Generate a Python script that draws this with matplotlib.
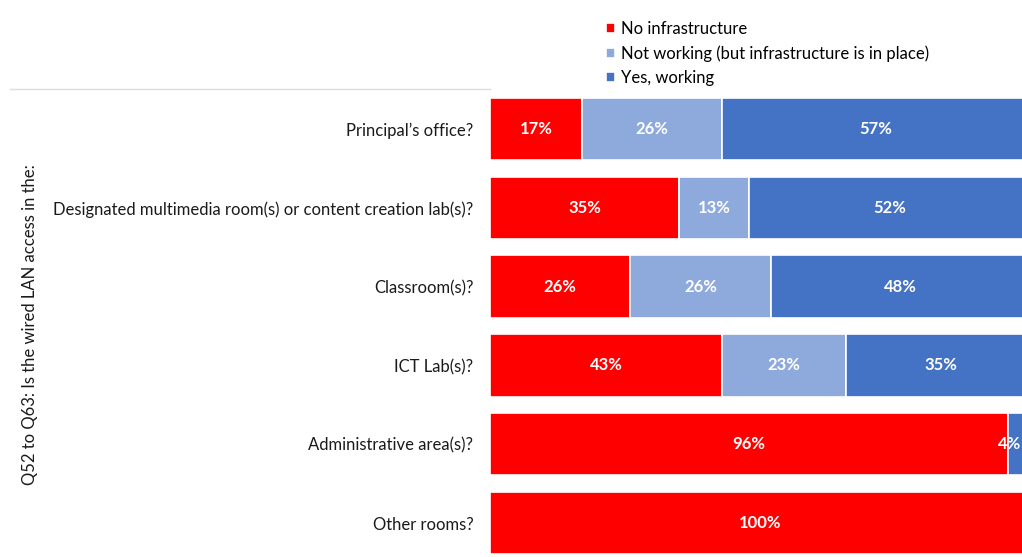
import matplotlib
matplotlib.use("Agg")
import matplotlib.pyplot as plt
import numpy as np

categories = [
    "Principal\u2019s office?",
    "Designated multimedia room(s) or content creation lab(s)?",
    "Classroom(s)?",
    "ICT Lab(s)?",
    "Administrative area(s)?",
    "Other rooms?",
]
series_names = ["No infrastructure", "Not working (but infrastructure is in place)", "Yes, working"]
no_infra = [17, 35, 26, 43, 96, 100]
not_working = [26, 13, 26, 23, 0, 0]
yes_working = [57, 52, 48, 35, 4, 0]
colors = ["#FF0000", "#8EA9DB", "#4472C4"]
ylabel = "Q52 to Q63: Is the wired LAN access in the:"

plt.rcParams['font.family'] = ['Lato', 'DejaVu Sans']

W, H = 1022, 557
fig = plt.figure(figsize=(W / 100, H / 100), dpi=100)
# axes spans px x 490..1030, y 89.6..562.4
ax = fig.add_axes([490 / W, 1 - 562.4 / H, 540 / W, 472.8 / H])

y = np.arange(len(categories))
left = np.zeros(len(categories))
handles = []
for name, vals, c in zip(series_names, [no_infra, not_working, yes_working], colors):
    vals = np.array(vals, dtype=float)
    bars = ax.barh(y, vals, left=left, height=0.79, color=c, edgecolor="white", linewidth=1.2, label=name)
    handles.append(bars)
    for yi, l, v in zip(y, left, vals):
        if v > 0:
            xc = l + v / 2
            if v < 6:
                xc -= 1.8
            ax.text(xc, yi, f"{int(v)}%", ha="center", va="center", color="white",
                    fontsize=12, fontweight="bold")
    left += vals

ax.set_xlim(0, 100)
ax.set_ylim(len(categories) - 0.5, -0.5)
ax.set_yticks(y)
ax.set_yticklabels(categories, fontsize=12, color="#1a1a1a")
ax.tick_params(axis="y", length=0, pad=12)
ax.set_xticks([])
for s in ax.spines.values():
    s.set_visible(False)

# panel top line
fig.add_artist(plt.Line2D([10 / W, 490 / W], [1 - 89 / H, 1 - 89 / H], color="#DDDDDD", lw=1))

fig.text(30 / W, 1 - 325 / H, ylabel, rotation=90, ha="center", va="center", fontsize=12, color="#1a1a1a")

fig.legend(handles=handles, labels=series_names, loc="upper left",
           bbox_to_anchor=(606 / W, 1 - 21 / H), frameon=False, fontsize=12,
           handlelength=0.55, handleheight=0.55, handletextpad=0.35, labelspacing=0.5,
           borderpad=0, borderaxespad=0)

fig.savefig("out.png", dpi=100, facecolor="white")
